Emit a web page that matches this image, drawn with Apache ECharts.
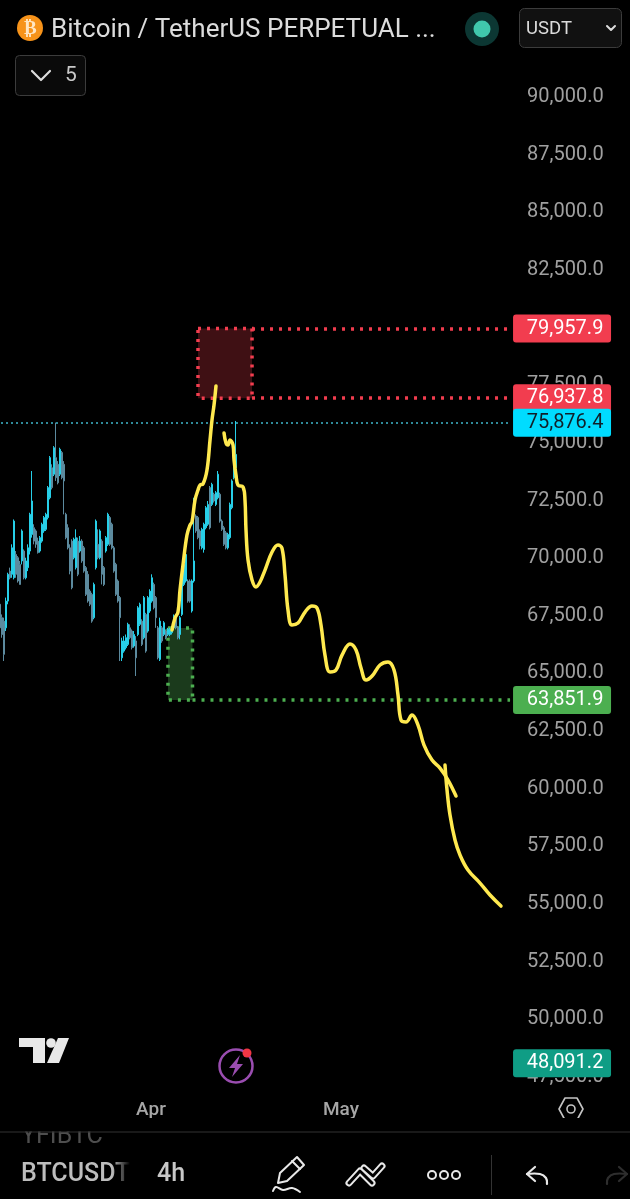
<!DOCTYPE html>
<html>
<head>
<meta charset="utf-8">
<script src="https://cdn.jsdelivr.net/npm/echarts@6/dist/echarts.min.js"></script>
<style>
html, body { margin: 0; padding: 0; background: #000; }
#chart { width: 630px; height: 1199px; }
</style>
</head>
<body>
<div id="chart"></div>
<script>
// candles, about 8h apart, day numbers count from 1 Jan
var firstDay = 66.16;
var candleStep = 0.3158;
var opens = [68000,67420,67270,66980,68140,69440,69300,69150,70160,70020,69730,69880,70310,69150,69590,70310,71030,71320,71180,70740,70310,70740,71180,71250,71760,72620,73920,73640,74360,74070,73640,74580,74070,71900,71320,70450,70740,70020,69590,70740,70310,70740,70450,69590,69300,68570,68430,67420,69590,70600,70020,70740,69590,70310,70600,71760,71470,70450,69730,69010,68290,65680,65970,66120,66260,66980,66840,66190,66410,66690,67130,67270,66550,67560,66840,67710,68140,68860,68290,66980,65610,66980,66690,66840,66690,66690,66770,66980,67420,66980,66690,67560,68860,69010,69010,69010,67710,69010,71830,71760,71180,70450,70380,71320,71470,73060,72330,72770,72330,72620,72770,71610,71320,71100,70450,70890,72190,73490,73920];
var closes = [66980,66690,65830,68140,69300,69150,70450,71610,69300,69010,68860,71180,69150,69880,70450,71900,72480,70740,70600,70240,70890,71470,71760,71900,73060,74360,73060,74790,73490,73270,74720,73490,73350,70890,70450,69440,68720,70820,70890,69300,70740,69880,69440,68430,68140,68000,67270,68860,71610,70020,71180,69300,68860,70890,71900,70600,70450,69440,68430,68140,67420,66410,66410,66550,67130,66550,66120,66690,65680,67850,68000,66260,68290,65970,68290,68570,69150,67850,67420,65680,67270,66410,67200,66550,66910,66910,66980,67490,66980,66550,67420,69220,69730,70160,68140,68140,69010,69880,71180,70890,70530,71250,71470,72190,72330,71320,73200,72480,72840,73640,71610,71250,70600,70450,71030,72330,73350,74790,74500];
var lows = [66840,66550,65540,66840,68000,69080,69150,69080,69150,68940,68860,69730,69080,69080,69440,70160,70890,70600,70450,70200,70240,70670,71100,71180,71680,72550,72980,73560,73350,73200,73560,73420,71900,70820,70380,69300,68650,69950,69510,69220,70240,69800,69370,68360,68070,67920,67200,67350,69510,69950,69950,68860,68790,70240,70530,70530,70380,69370,68360,68070,65540,65540,65900,66040,66190,66480,66040,66120,64890,66620,67060,66190,66480,65900,66770,67630,68070,67780,66980,65610,65540,66330,66620,66480,66620,66620,66690,66910,66910,66480,66480,67490,68790,68940,68070,68070,67640,68940,71100,70820,70380,70380,70240,71250,71400,71250,72260,72410,72260,72550,71540,71180,70530,70380,70380,70820,72120,73420,73850];
var highs = [68140,67560,67420,68290,69370,69590,70600,71680,70310,70090,69880,71250,70380,70020,70600,71970,73780,71470,71250,70890,70960,71540,71830,71970,73130,74430,74070,74860,75880,74210,74790,74650,74210,71970,71470,70600,70820,70890,71250,70890,70960,70820,70530,69660,69440,68650,68500,68940,71680,71250,71250,70820,69660,70960,71970,71830,71540,70530,69800,69080,68360,66550,66620,66690,67200,67130,66910,66840,66620,67920,68070,67350,68360,67630,68360,68650,69300,68940,68360,67060,67420,67060,67270,66910,66980,66980,67060,67560,67490,67060,67490,69300,69880,70310,69080,69080,69080,72620,71900,71830,71250,71320,71540,72260,72480,73130,73270,72840,72910,73780,72840,71680,71400,71180,71100,72410,73420,74860,75950];

// drawn levels and tags
var redTop = 79957.9;
var redBottom = 76937.8;
var lastPrice = 75876.4;
var greenTop = 66970;
var greenBottom = 63851.9;
var counterPrice = 48091.2;
var tagPrices = [redTop, redBottom, lastPrice, greenBottom, counterPrice];
var tagColors = ['#f23d4f', '#f23d4f', '#00dcff', '#4caf50', '#0f9d85'];
var tagTextColors = ['#fff', '#fff', '#10202a', '#fff', '#fff'];

// yellow hand drawn strokes, [day, price]
var stroke1 = [[93.32,66884],[93.79,67404],[94.26,67665],[94.58,68619],[95.05,69703],[95.68,71004],[96.16,71438],[96.47,71568],[96.95,72522],[97.42,72956],[97.74,73172],[98.21,73216],[98.84,73823],[99.32,75124],[99.63,75992],[99.95,76642],[100.26,77466]];
var stroke2 = [[101.53,75428],[101.84,74994],[102.16,74907],[102.47,75124],[102.95,74907],[103.11,74257],[103.42,73606],[103.74,73172],[104.53,73086],[104.84,72522],[105,71221],[105.32,69920],[105.95,69053],[106.58,68749],[107.21,68965],[108,69486],[109.11,70267],[110.05,70570],[110.68,70440],[111.16,69269],[111.63,67752],[112.26,67101],[113.21,67187],[114.32,67665],[115.42,67925],[116.21,67838],[116.84,67101],[117.47,65799],[118.26,65063],[119.21,65149],[120.16,65799],[121.42,66277],[122.37,66016],[123.16,65236],[123.95,64716],[124.9,64888],[126.16,65366],[127.42,65496],[128.37,65149],[129,64065],[129.47,62981],[130.26,62894],[131.21,63197],[132.16,62764],[133.11,61896],[134.37,61246],[135.63,60899],[136.9,60379],[138.16,59684]];
var stroke3 = [[136.42,61029],[136.74,59945],[137.21,58860],[138,57776],[138.79,57126],[140.05,56475],[141.95,55911],[143.53,55391],[145.26,54914]];

var redDays = [97.42, 105.95];
var greenDays = [92.68, 96.55];
var lineEndDay = 146.69;
var tagDay = 154.9;

var candleData = [];
for (var i = 0; i < opens.length; i++) {
    candleData.push([firstDay + i * candleStep, opens[i], closes[i], lows[i], highs[i]]);
}

function yellowStroke(data) {
    return {
        type: 'line', data: data, smooth: 0.4, symbol: 'none', z: 6,
        lineStyle: { color: '#ffe94f', width: 3.5, cap: 'round', join: 'round' }
    };
}

function txt(text, x, y, size, color, weight) {
    return { type: 'text', x: x, y: y, z: 20, style: { text: text, fill: color, fontFamily: 'Roboto', fontSize: size, fontWeight: weight || 400, textVerticalAlign: 'middle' } };
}
function line(points, color, width, smooth) {
    return { type: 'polyline', z: 20, shape: { points: points, smooth: smooth || 0 }, style: { stroke: color, lineWidth: width, fill: null, lineCap: 'round', lineJoin: 'round' } };
}
function circle(cx, cy, r, fill, stroke, width) {
    return { type: 'circle', z: 20, shape: { cx: cx, cy: cy, r: r }, style: { fill: fill, stroke: stroke || null, lineWidth: width || 0 } };
}
function box(x, y, w, h, r, fill, stroke, z) {
    return { type: 'rect', z: z || 19, shape: { x: x, y: y, width: w, height: h, r: r }, style: { fill: fill, stroke: stroke || null, lineWidth: 1 } };
}
function poly(points, fill, stroke, width) {
    return { type: 'polygon', z: 20, shape: { points: points }, style: { fill: fill, stroke: stroke || null, lineWidth: width || 0, lineJoin: 'round' } };
}

var screenParts = [
    // header
    circle(30, 28, 13, '#f7931a'),
    txt('₿', 24, 29, 19, '#ffe6c4', 700),
    txt('Bitcoin / TetherUS PERPETUAL ...', 51, 30, 26, '#dcdcdc'),
    circle(482, 29, 17, '#0c3733'),
    circle(482, 29, 8.5, '#40c8ac'),
    box(519.5, 8.5, 102, 39, 5, '#111', '#3c3c3c'),
    txt('USDT', 526, 29, 18.5, '#dcdcdc'),
    line([[607, 26], [611, 30], [615, 26]], '#dcdcdc', 2),
    box(15.5, 55.5, 70, 40, 4, '#0a0a0a', '#3c3c3c'),
    line([[32, 71], [41, 80], [50, 71]], '#dcdcdc', 2.2),
    txt('5', 65, 76, 21, '#c8c8c8'),
    // tradingview logo
    poly([[19, 1038], [45, 1038], [45, 1063], [33, 1063], [33, 1047], [19, 1047]], '#e8e8e8'),
    circle(51, 1043, 4.8, '#e8e8e8'),
    poly([[58, 1038], [69, 1038], [59, 1063], [47, 1063]], '#e8e8e8'),
    // bolt badge
    circle(236, 1066, 16.5, 'none', '#9a4db0', 2.5),
    poly([[240, 1055], [229, 1068], [235, 1068], [232, 1077], [243, 1064], [237, 1064]], '#9a4db0'),
    circle(247, 1053, 4.5, '#f23645'),
    // axis settings
    poly([[559, 1109], [565, 1098], [577, 1098], [583, 1109], [577, 1120], [565, 1120]], 'none', '#c4c4c4', 1.6),
    circle(571, 1109, 4, 'none', '#c4c4c4', 1.6),
    // bottom bar
    txt('YFIBTC', 21, 1137, 25, '#4e4e4e'),
    box(0, 1118, 630, 13.5, 0, '#000', null, 21),
    box(0, 1131.5, 630, 1, 0, '#333', null, 22),
    txt('BTCUSDT', 21, 1175, 25, '#bdbdbd', 500),
    { type: 'rect', z: 21, shape: { x: 112, y: 1160, width: 20, height: 30 }, style: { fill: new echarts.graphic.LinearGradient(0, 0, 1, 0, [{ offset: 0, color: 'rgba(0,0,0,0)' }, { offset: 0.9, color: '#000' }]) } },
    box(132, 1160, 20, 30, 0, '#000', null, 21),
    txt('4h', 157, 1175, 25, '#c8c8c8', 500),
    poly([[278, 1183], [280, 1173], [297, 1157], [304, 1165], [287, 1181]], 'none', '#e8e8e8', 2),
    line([[292, 1161], [300, 1169]], '#e8e8e8', 2),
    line([[273, 1191], [276, 1187], [283, 1190], [292, 1188], [300, 1192]], '#e8e8e8', 2, 0.4),
    line([[349, 1183], [360, 1171], [372, 1183]], '#e8e8e8', 7),
    line([[349, 1183], [360, 1171], [372, 1183]], '#000', 3),
    line([[364, 1168], [373, 1176], [382, 1166]], '#e8e8e8', 7),
    line([[364, 1168], [373, 1176], [382, 1166]], '#000', 3),
    circle(432, 1175, 4, 'none', '#e8e8e8', 2),
    circle(444, 1175, 4, 'none', '#e8e8e8', 2),
    circle(456, 1175, 4, 'none', '#e8e8e8', 2),
    box(491, 1155, 1, 40, 0, '#333'),
    line([[535, 1167], [527, 1174], [535, 1181]], '#e8e8e8', 2.2),
    line([[527, 1174], [540, 1174], [546, 1178], [547, 1184]], '#e8e8e8', 2.2, 0.4),
    line([[619, 1167], [627, 1174], [619, 1181]], '#2e2e2e', 2.2),
    line([[627, 1174], [614, 1174], [608, 1178], [607, 1184]], '#2e2e2e', 2.2, 0.4)
];

var chart = echarts.init(document.getElementById('chart'));
chart.setOption({
    backgroundColor: '#000',
    animation: false,
    graphic: { elements: screenParts },
    grid: { left: -39, right: 0, top: 97, height: 980, outerBoundsMode: 'none', containLabel: false },
    xAxis: {
        type: 'value', min: 60, max: 165.63, interval: 30,
        axisLine: { show: false }, axisTick: { show: false }, splitLine: { show: false },
        axisLabel: {
            color: '#a6a6a6', fontFamily: 'Roboto', fontSize: 19, fontWeight: 500, margin: 24,
            formatter: function (v) { return v === 90 ? 'Apr' : v === 120 ? 'May' : ''; }
        }
    },
    yAxis: {
        type: 'value', min: 47500, max: 90000, interval: 2500, position: 'right', offset: -103,
        axisLine: { show: false }, axisTick: { show: false }, splitLine: { show: false },
        axisLabel: {
            color: '#a0a0a0', fontFamily: 'Roboto', fontSize: 20, margin: 0, align: 'left', padding: [3, 0, 0, 0],
            formatter: function (v) { return v.toLocaleString('en-US', { minimumFractionDigits: 1 }); }
        }
    },
    series: [
        {
            type: 'candlestick', data: candleData, barWidth: 2, z: 3,
            encode: { x: 0, y: [1, 2, 3, 4] },
            itemStyle: { color: '#27cfe8', color0: '#5c8a9e', borderColor: '#27cfe8', borderColor0: '#5c8a9e', borderWidth: 1 }
        },
        {
            type: 'line', data: [], z: 2,
            markArea: {
                silent: true,
                data: [
                    [{ coord: [redDays[0], redTop], itemStyle: { color: '#3f1014', borderColor: '#f23d4f', borderWidth: 3.5, borderType: [3, 6] } }, { coord: [redDays[1], redBottom] }],
                    [{ coord: [greenDays[0], greenTop], itemStyle: { color: '#1b3a1c', borderColor: '#4caf50', borderWidth: 3.5, borderType: [3, 6] } }, { coord: [greenDays[1], greenBottom] }]
                ]
            },
            markLine: {
                silent: true, symbol: 'none', label: { show: false },
                data: [
                    [{ coord: [redDays[1], redTop], lineStyle: { color: '#f23d4f', width: 3.5, type: [3, 6] } }, { coord: [lineEndDay, redTop] }],
                    [{ coord: [redDays[1], redBottom], lineStyle: { color: '#f23d4f', width: 3.5, type: [3, 6] } }, { coord: [lineEndDay, redBottom] }],
                    [{ coord: [greenDays[1], greenBottom], lineStyle: { color: '#4caf50', width: 3.5, type: [3, 6] } }, { coord: [lineEndDay, greenBottom] }],
                    [{ coord: [60, lastPrice], lineStyle: { color: '#3fb8cc', width: 1.5, type: [2, 3] } }, { coord: [lineEndDay, lastPrice] }]
                ]
            }
        },
        yellowStroke(stroke1),
        yellowStroke(stroke2),
        yellowStroke(stroke3),
        {
            type: 'scatter', symbolKeepAspect: false,
            symbol: 'path://M3 0H95Q98 0 98 3V25Q98 28 95 28H3Q0 28 0 25V3Q0 0 3 0Z',
            symbolSize: [98, 28], z: 8,
            data: tagPrices.map(function (p, i) {
                return {
                    value: [tagDay, p],
                    itemStyle: { color: tagColors[i], opacity: 1 },
                    label: {
                        show: true, position: 'inside', offset: [3, 0], color: tagTextColors[i],
                        fontFamily: 'Roboto', fontSize: 20,
                        formatter: p.toLocaleString('en-US', { minimumFractionDigits: 1 })
                    }
                };
            })
        }
    ]
});
</script>
</body>
</html>
